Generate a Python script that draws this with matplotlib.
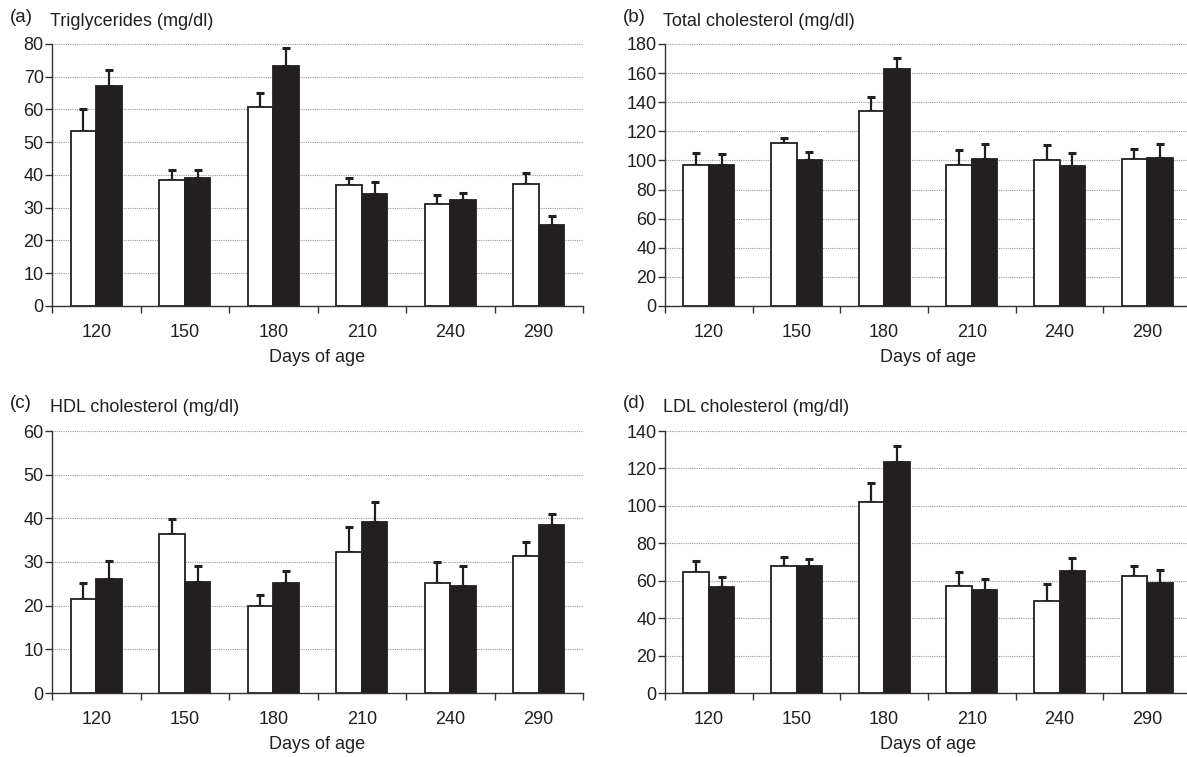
import matplotlib
matplotlib.use("Agg")
import matplotlib.pyplot as plt
import numpy as np

plt.rcParams['font.family'] = ['Liberation Sans', 'DejaVu Sans']

days = ["120", "150", "180", "210", "240", "290"]

tg_white = [53.5, 38.5, 60.8, 37.0, 31.0, 37.3]
tg_white_err = [6.5, 3.0, 4.2, 2.0, 2.8, 3.2]
tg_black = [67.2, 39.0, 73.3, 34.2, 32.3, 24.7]
tg_black_err = [4.8, 2.5, 5.5, 3.8, 2.2, 2.8]

tc_white = [96.8, 112.1, 134.3, 96.6, 100.3, 101.2]
tc_white_err = [8.2, 3.5, 9.6, 10.3, 10.0, 6.4]
tc_black = [96.6, 100.5, 163.1, 101.0, 96.2, 101.9]
tc_black_err = [8.0, 5.5, 7.5, 10.5, 8.9, 9.3]

hdl_white = [21.5, 36.4, 19.9, 32.3, 25.2, 31.3]
hdl_white_err = [3.8, 3.4, 2.6, 5.7, 4.9, 3.3]
hdl_black = [26.2, 25.4, 25.1, 39.2, 24.6, 38.5]
hdl_black_err = [4.0, 3.6, 2.9, 4.5, 4.5, 2.4]

ldl_white = [64.9, 67.9, 102.1, 57.1, 49.1, 62.6]
ldl_white_err = [5.5, 4.8, 10.3, 7.8, 9.4, 5.4]
ldl_black = [56.9, 67.6, 123.6, 55.2, 65.1, 58.7]
ldl_black_err = [5.0, 4.1, 8.4, 5.6, 7.1, 6.9]

panels = [
    ("(a)", "Triglycerides (mg/dl)", tg_white, tg_white_err, tg_black, tg_black_err, 80, 10),
    ("(b)", "Total cholesterol (mg/dl)", tc_white, tc_white_err, tc_black, tc_black_err, 180, 20),
    ("(c)", "HDL cholesterol (mg/dl)", hdl_white, hdl_white_err, hdl_black, hdl_black_err, 60, 10),
    ("(d)", "LDL cholesterol (mg/dl)", ldl_white, ldl_white_err, ldl_black, ldl_black_err, 140, 20),
]

W, H = 1187, 757
fig = plt.figure(figsize=(W / 100, H / 100), dpi=100)

# pixel boxes: left, right, top, bottom
boxes = [
    (52, 583, 44, 306),
    (665, 1191, 44, 306),
    (52, 583, 431, 693),
    (665, 1191, 431, 693),
]

dark = "#231f20"
fs = 13
bw = 0.29

for (lab, title, w, we, b, be, ymax, step), (l, r, t, btm) in zip(panels, boxes):
    ax = fig.add_axes([l / W, 1 - btm / H, (r - l) / W, (btm - t) / H])
    x = np.arange(len(days))
    ax.bar(x - bw / 2, w, bw, color="white", edgecolor=dark, linewidth=1.3, zorder=3)
    ax.bar(x + bw / 2, b, bw, color=dark, edgecolor=dark, linewidth=1.3, zorder=3)
    ax.errorbar(x - bw / 2, w, yerr=[np.zeros(len(w)), we], fmt="none", ecolor=dark,
                elinewidth=1.6, capsize=3, capthick=2.2, zorder=2)
    ax.errorbar(x + bw / 2, b, yerr=[np.zeros(len(b)), be], fmt="none", ecolor=dark,
                elinewidth=1.6, capsize=3, capthick=2.2, zorder=2)
    ax.set_xlim(-0.5, len(days) - 0.5)
    ax.set_ylim(0, ymax)
    ax.set_yticks(np.arange(0, ymax + 1, step))
    ax.yaxis.grid(True, color="#9a9a9a", linestyle=(0, (1, 1)), linewidth=0.8, zorder=0)
    ax.set_axisbelow(True)
    ax.set_xticks(np.arange(-0.5, len(days), 1.0))
    ax.set_xticklabels([])
    ax.set_xticks(x, minor=True)
    ax.set_xticklabels(days, minor=True)
    ax.tick_params(axis="x", which="major", direction="out", length=5, width=1, color="#333333")
    ax.tick_params(axis="x", which="minor", length=0, pad=13, labelsize=fs, labelcolor=dark)
    ax.tick_params(axis="y", direction="out", length=5, width=1, color="#333333",
                   labelsize=fs, labelcolor=dark, pad=1)
    for s in ("top", "right"):
        ax.spines[s].set_visible(False)
    for s in ("left", "bottom"):
        ax.spines[s].set_color("#333333")
        ax.spines[s].set_linewidth(1.0)
    ax.set_xlabel("Days of age", fontsize=fs, color=dark, labelpad=6)
    fig.text((l - 42) / W, 1 - (t - 27) / H, lab, fontsize=fs + 0.5, va="center", ha="left", color=dark)
    fig.text((l - 2) / W, 1 - (t - 23) / H, title, fontsize=fs, va="center", ha="left", color=dark)

fig.savefig("out.png", dpi=100)
